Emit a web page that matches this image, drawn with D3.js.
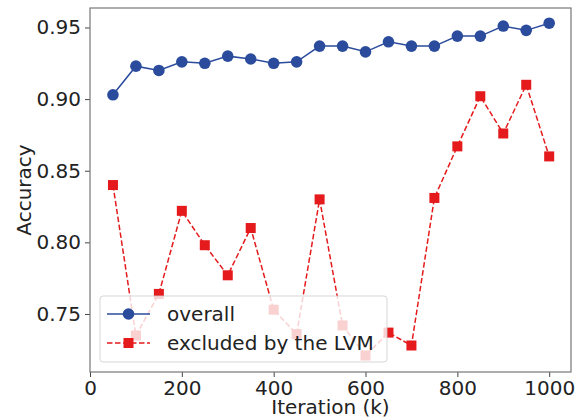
<!DOCTYPE html>
<html>
<head>
<meta charset="utf-8">
<script src="https://cdn.jsdelivr.net/npm/d3@7"></script>
<style>
  body { margin: 0; background: #fff; }
  svg text { font-family: "DejaVu Sans", sans-serif; fill: #222; }
</style>
</head>
<body>
<div id="chart"></div>
<script>
const iterations = [50, 100, 150, 200, 250, 300, 350, 400, 450, 500,
    550, 600, 650, 700, 750, 800, 850, 900, 950, 1000];
const overall = [0.903, 0.923, 0.920, 0.926, 0.925, 0.930, 0.928, 0.925, 0.926, 0.937,
    0.937, 0.933, 0.940, 0.937, 0.937, 0.944, 0.944, 0.951, 0.948, 0.953];
const excluded = [0.840, 0.735, 0.764, 0.822, 0.798, 0.777, 0.810, 0.753, 0.736, 0.830,
    0.742, 0.721, 0.737, 0.728, 0.831, 0.867, 0.902, 0.876, 0.910, 0.860];
const xTicks = [0, 200, 400, 600, 800, 1000];
const yTicks = [0.75, 0.80, 0.85, 0.90, 0.95];
const seriesNames = ["overall", "excluded by the LVM"];

const margin = { top: 8, right: 10, bottom: 48, left: 90 };
const width = 581 - margin.left - margin.right;
const height = 420 - margin.top - margin.bottom;
const fontSize = "20px";

const blue = "#2b4c9c";
const red = "#e41a1c";

const svg = d3.select("#chart")
    .append("svg")
    .attr("width", 581)
    .attr("height", 420)
    .append("g")
    .attr("transform", `translate(${margin.left},${margin.top})`);

const xScale = d3.scaleLinear().domain([0, 1047.5]).range([0, width]);
const yScale = d3.scaleLinear().domain([0.7095, 0.9636]).range([height, 0]);

// axes
const xAxis = d3.axisBottom(xScale).tickValues(xTicks).tickFormat(d3.format("d")).tickSize(5).tickPadding(4);
const yAxis = d3.axisLeft(yScale).tickValues(yTicks).tickFormat(d3.format(".2f")).tickSize(5).tickPadding(4);

const gx = svg.append("g").attr("transform", `translate(0,${height})`).call(xAxis);
const gy = svg.append("g").call(yAxis);
[gx, gy].forEach(g => {
    g.select(".domain").remove();
    g.selectAll(".tick line").attr("stroke", "#444").attr("stroke-width", 1);
    g.selectAll(".tick text").style("font-size", fontSize).attr("fill", "#222");
});

// frame
svg.append("rect")
    .attr("width", width)
    .attr("height", height)
    .attr("fill", "none")
    .attr("stroke", "#777")
    .attr("stroke-width", 1.2);

const line = d3.line()
    .x((d, i) => xScale(iterations[i]))
    .y(d => yScale(d));

// overall
svg.append("path")
    .datum(overall)
    .attr("d", line)
    .attr("fill", "none")
    .attr("stroke", blue)
    .attr("stroke-width", 1.5);
svg.selectAll(".dot")
    .data(overall)
    .enter()
    .append("circle")
    .attr("class", "dot")
    .attr("cx", (d, i) => xScale(iterations[i]))
    .attr("cy", d => yScale(d))
    .attr("r", 5.8)
    .attr("fill", blue);

// excluded
svg.append("path")
    .datum(excluded)
    .attr("d", line)
    .attr("fill", "none")
    .attr("stroke", red)
    .attr("stroke-width", 1.5)
    .attr("stroke-dasharray", "5.5,2.5");
const sq = 10;
svg.selectAll(".sq")
    .data(excluded)
    .enter()
    .append("rect")
    .attr("class", "sq")
    .attr("x", (d, i) => xScale(iterations[i]) - sq / 2)
    .attr("y", d => yScale(d) - sq / 2)
    .attr("width", sq)
    .attr("height", sq)
    .attr("fill", red);

// legend
const lg = svg.append("g").attr("transform", "translate(10,288)");
lg.append("rect")
    .attr("width", 287)
    .attr("height", 66)
    .attr("rx", 3)
    .attr("fill", "white")
    .attr("fill-opacity", 0.8)
    .attr("stroke", "#ccc")
    .attr("stroke-opacity", 0.8);

const rows = [
    { name: seriesNames[0], color: blue, dash: null, y: 18 },
    { name: seriesNames[1], color: red, dash: "5.5,2.5", y: 47 }
];
rows.forEach(r => {
    lg.append("line")
        .attr("x1", 7).attr("x2", 50)
        .attr("y1", r.y).attr("y2", r.y)
        .attr("stroke", r.color)
        .attr("stroke-width", 1.5)
        .attr("stroke-dasharray", r.dash);
    if (r.dash) {
        lg.append("rect")
            .attr("x", 28.5 - sq / 2).attr("y", r.y - sq / 2)
            .attr("width", sq).attr("height", sq)
            .attr("fill", r.color);
    } else {
        lg.append("circle")
            .attr("cx", 28.5).attr("cy", r.y).attr("r", 5.8)
            .attr("fill", r.color);
    }
    lg.append("text")
        .attr("x", 67)
        .attr("y", r.y)
        .attr("dy", "0.35em")
        .style("font-size", fontSize)
        .text(r.name);
});

// axis titles
svg.append("text")
    .attr("x", width / 2)
    .attr("y", height + 42)
    .attr("text-anchor", "middle")
    .style("font-size", fontSize)
    .text("Iteration (k)");

svg.append("text")
    .attr("x", -height / 2)
    .attr("y", -margin.left + 31)
    .attr("text-anchor", "middle")
    .attr("transform", "rotate(-90)")
    .style("font-size", fontSize)
    .text("Accuracy");
</script>
</body>
</html>
